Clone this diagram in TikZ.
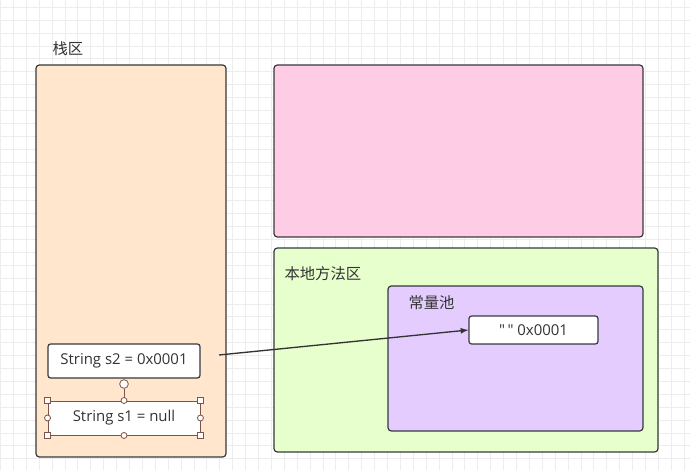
\documentclass[tikz,border=0pt]{standalone}
\usepackage{fontspec}
\setmainfont{Noto Sans CJK SC}
\newfontfamily\latinfont{Open Sans}
\usepackage{tikz}

\definecolor{edge}{HTML}{36393D}
\definecolor{txt}{HTML}{333333}
\definecolor{peach}{HTML}{FFE6CC}
\definecolor{pinkarea}{HTML}{FFCCE6}
\definecolor{greenarea}{HTML}{E6FFCC}
\definecolor{purplearea}{HTML}{E5CCFF}
\definecolor{gridc}{HTML}{EDEDED}
\definecolor{handle}{HTML}{7A5548}

\begin{document}
\begin{tikzpicture}[x=0.75pt, y=-0.75pt, thick,
	area/.style={draw=edge, line width=0.9pt, rounded corners=2.5pt},
	varbox/.style={rectangle, draw=edge, line width=0.9pt, fill=white, rounded corners=2pt,
		minimum width=114pt, minimum height=25.5pt, inner sep=0pt, text=txt, font=\latinfont\fontsize{11.2}{13}\selectfont},
	lbl/.style={anchor=west, inner sep=0pt, text=txt, font=\fontsize{11.5}{13}\selectfont},
	sq/.style={rectangle, draw=handle, fill=white, line width=0.6pt, minimum size=4.5pt, inner sep=0pt},
	dot/.style={circle, draw=handle, fill=white, line width=0.6pt, minimum size=4.5pt, inner sep=0pt}]
	\useasboundingbox (0,0) rectangle (690,470);
	\fill[white] (0,0) rectangle (690,470);
	% grid
	\foreach \i in {0,...,53}
		\draw[gridc, line width=0.6pt] (0.4+12.9*\i,0) -- (0.4+12.9*\i,470);
	\foreach \j in {0,...,36}
		\draw[gridc, line width=0.6pt] (0,7.3+12.9*\j) -- (690,7.3+12.9*\j);

	% areas
	\draw[area, fill=peach] (36,65) rectangle (226,457);
	\draw[area, fill=pinkarea] (274,65) rectangle (643,237);
	\draw[area, fill=greenarea] (274,248) rectangle (658,452);
	\draw[area, fill=purplearea] (388,286) rectangle (643,431);

	\node (stacklbl) [lbl] at (52,49) {栈区};
	\node (nativelbl) [lbl] at (284,274) {本地方法区};
	\node (poollbl) [lbl] at (408,303) {常量池};

	% variables
	\node (s2) [varbox] at (124,361) {String s2 = 0x0001};
	\node (s1) [varbox, draw=handle, line width=0.7pt, rounded corners=0pt] at (124,418) {String s1 = null};
	\node (str) [varbox, minimum width=96.75pt, minimum height=21pt] at (533.5,330) {\symbol{34}\,\symbol{34} 0x0001};

	% selection handles of s1
	\node (rot) [dot, minimum size=6.5pt] at (124,384) {};
	\draw[handle, line width=0.6pt] (rot) -- (s1.north);
	\foreach \a in {north west, north east, south west, south east}
		\node [sq] at (s1.\a) {};
	\foreach \a in {north, south, west, east}
		\node [dot] at (s1.\a) {};

	% reference
	\coordinate (tail) at (219,355);
	\draw[-latex, color=txt, line width=1pt] (tail) -- (str.west);
\end{tikzpicture}
\end{document}
